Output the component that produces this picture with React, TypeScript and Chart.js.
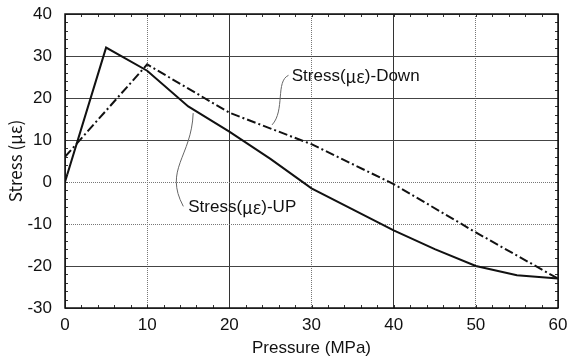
import React, { useEffect, useRef } from "react";
import { Chart, registerables } from "chart.js";

Chart.register(...registerables);

const pressureUp = [0, 5, 10, 15, 20, 25, 30, 35, 40, 45, 50, 55, 60];
const stressUp = [0, 32, 26.5, 18, 12, 5.5, -1.5, -6.5, -11.5, -16, -20, -22.2, -23];
const pressureDown = [0, 10, 20, 30, 40, 50, 60];
const stressDown = [6, 28, 16.5, 9, -0.5, -12, -23];

const xTicks = [0, 10, 20, 30, 40, 50, 60];
const yTicks = [-30, -20, -10, 0, 10, 20, 30, 40];

// annotation labels split into [latin, greek, latin] parts
const labelUpParts = ["Stress(", "\u03bc\u03b5", ")-UP"];
const labelDownParts = ["Stress(", "\u03bc\u03b5", ")-Down"];
const labelUpPos = [15.0, -6.0];
const labelDownPos = [27.6, 25.2];
// leader curves: start, control1, control2, end (data coords)
const leaderUp = [[15.6, 16.4], [15.4, 6], [12.0, 3], [14.4, -5.8]];
const leaderDown = [[25.2, 13.6], [26.8, 17], [25.6, 24], [27.2, 25.4]];

const dottedX = [10, 30, 50];
const dottedY = [0, -10];

const FONT = "'Liberation Sans', Arial, sans-serif";
const GREEK_FONT = "'Noto Sans CJK JP', sans-serif";

const overlay = {
  id: "overlay",
  afterDraw(chart: any) {
    const { ctx, scales } = chart;
    const x = scales.x;
    const y = scales.y;
    const area = chart.chartArea;
    ctx.save();
    // minor ticks
    ctx.strokeStyle = "#333";
    ctx.lineWidth = 1;
    for (let v = x.min; v <= x.max; v += 2) {
      const px = Math.round(x.getPixelForValue(v)) + 0.5;
      ctx.beginPath();
      ctx.moveTo(px, area.bottom);
      ctx.lineTo(px, area.bottom - 3);
      ctx.moveTo(px, area.top);
      ctx.lineTo(px, area.top + 3);
      ctx.stroke();
    }
    for (let v = y.min; v <= y.max; v += 2) {
      const py = Math.round(y.getPixelForValue(v)) + 0.5;
      ctx.beginPath();
      ctx.moveTo(area.left, py);
      ctx.lineTo(area.left + 3, py);
      ctx.moveTo(area.right, py);
      ctx.lineTo(area.right - 3, py);
      ctx.stroke();
    }
    // leaders
    ctx.strokeStyle = "#666";
    ctx.lineWidth = 1;
    for (const c of [leaderUp, leaderDown]) {
      const p = c.map((q) => [x.getPixelForValue(q[0]), y.getPixelForValue(q[1])]);
      ctx.beginPath();
      ctx.moveTo(p[0][0], p[0][1]);
      ctx.bezierCurveTo(p[1][0], p[1][1], p[2][0], p[2][1], p[3][0], p[3][1]);
      ctx.stroke();
    }
    // labels
    ctx.fillStyle = "#111";
    ctx.textBaseline = "middle";
    ctx.textAlign = "left";
    const drawParts = (parts: string[], pos: number[]) => {
      let px = x.getPixelForValue(pos[0]);
      const py = y.getPixelForValue(pos[1]);
      parts.forEach((t, i) => {
        ctx.font = i === 1 ? `17px ${GREEK_FONT}` : `17px ${FONT}`;
        ctx.fillText(t, px, py);
        px += ctx.measureText(t).width;
      });
    };
    drawParts(labelUpParts, labelUpPos);
    drawParts(labelDownParts, labelDownPos);
    // border
    ctx.strokeStyle = "#111";
    ctx.lineWidth = 1.5;
    ctx.strokeRect(area.left, area.top, area.right - area.left, area.bottom - area.top);
    ctx.restore();
  },
};

export default function App() {
  const ref = useRef<HTMLCanvasElement | null>(null);
  useEffect(() => {
    document.body.style.margin = "0";
    const chart = new Chart(ref.current as HTMLCanvasElement, {
      type: "scatter",
      data: {
        datasets: [
          {
            label: labelUpParts.join(""),
            data: pressureUp.map((p, i) => ({ x: p, y: stressUp[i] })),
            showLine: true,
            borderColor: "#111",
            borderWidth: 2,
            pointRadius: 0,
            tension: 0,
          },
          {
            label: labelDownParts.join(""),
            data: pressureDown.map((p, i) => ({ x: p, y: stressDown[i] })),
            showLine: true,
            borderColor: "#111",
            borderWidth: 2,
            borderDash: [9, 3, 2, 3],
            pointRadius: 0,
            tension: 0,
          },
        ],
      },
      options: {
        responsive: false,
        animation: false,
        layout: { padding: { top: 14, right: 15, left: 0, bottom: 0 } },
        plugins: { legend: { display: false }, tooltip: { enabled: false } },
        scales: {
          x: {
            type: "linear",
            min: 0,
            max: 60,
            afterFit: (s: any) => {
              s.height = 55;
              s.paddingLeft = 0;
              s.paddingRight = 0;
            },
            afterBuildTicks: (s: any) => { s.ticks = xTicks.map((v) => ({ value: v })); },
            ticks: { color: "#111", font: { family: FONT, size: 17 }, padding: 7 },
            grid: {
              drawTicks: false,
              color: (c: any) => (dottedX.includes(c.tick?.value) ? "#777" : "#333"),
              lineWidth: 1,
            },
            border: {
              display: false,
              dash: (c: any) => (dottedX.includes(c.tick?.value) ? [1, 1] : []),
            },
            title: {
              display: true,
              text: "Pressure (MPa)",
              color: "#111",
              font: { family: FONT, size: 17 },
              padding: { top: 0, bottom: 4 },
            },
          },
          y: {
            type: "linear",
            min: -30,
            max: 40,
            afterFit: (s: any) => {
              s.width = 65;
              s.paddingTop = 0;
              s.paddingBottom = 0;
            },
            afterBuildTicks: (s: any) => { s.ticks = yTicks.map((v) => ({ value: v })); },
            ticks: { color: "#111", font: { family: FONT, size: 17 }, padding: 13 },
            grid: {
              drawTicks: false,
              color: (c: any) => (dottedY.includes(c.tick?.value) ? "#777" : "#444"),
              lineWidth: 1,
            },
            border: {
              display: false,
              dash: (c: any) => (dottedY.includes(c.tick?.value) ? [1, 1] : []),
            },
            title: {
              display: true,
              text: "Stress (\u03bc\u03b5)",
              color: "#111",
              font: { family: GREEK_FONT, size: 17 },
              padding: { top: 5, bottom: 0 },
            },
          },
        },
      },
      plugins: [overlay],
    });
    return () => chart.destroy();
  }, []);
  return (
    <div style={{ width: 573, height: 363 }}>
      <canvas ref={ref} width={573} height={363} style={{ display: "block" }} />
    </div>
  );
}
